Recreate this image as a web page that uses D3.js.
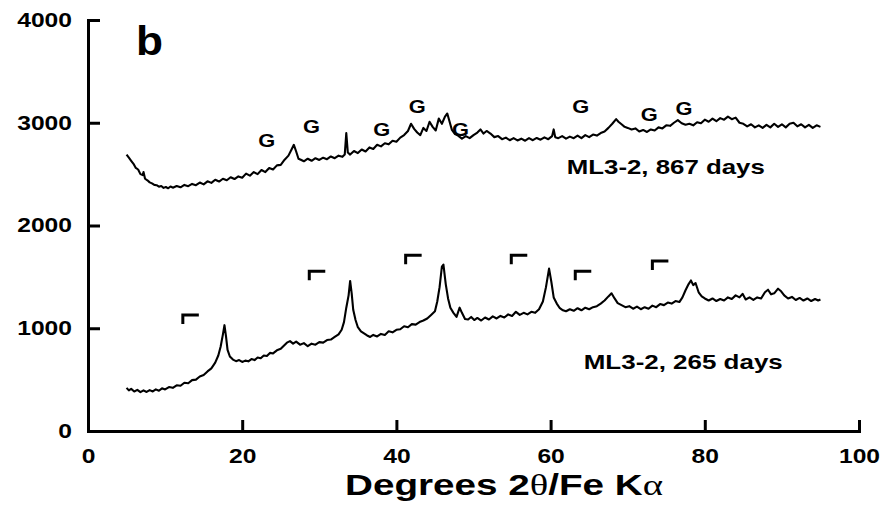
<!DOCTYPE html>
<html lang="en">
<head>
    <meta charset="UTF-8">
    <title>XRD ML3-2</title>
    <style>
        body {
            margin: 0;
            background-color: #fff;
        }
        svg {
            display: block;
        }
        .axis path, .axis line {
            stroke: #000;
            stroke-width: 3px;
        }
        .axis text {
            font-family: "Liberation Sans", Arial, sans-serif;
            font-weight: bold;
            font-size: 20px;
            fill: #000;
        }
        .scan {
            fill: none;
            stroke: #000;
            stroke-width: 2.1px;
            stroke-linejoin: round;
        }
        .label {
            font-family: "Liberation Sans", Arial, sans-serif;
            font-weight: bold;
            fill: #000;
        }
    </style>
</head>
<body>

<script src="https://d3js.org/d3.v7.min.js"></script>

<script>
    // x ticks, y ticks
    var xTicks = [0, 20, 40, 60, 80, 100];
    var yTicks = [0, 1000, 2000, 3000, 4000];

    // 867 days pattern [2theta, counts]
    var scan867 = [[5.0,2690],[5.3,2660],[5.6,2630],[5.9,2600],[6.2,2560],[6.5,2545],[6.8,2500],[7.1,2490],[7.2,2520],[7.4,2455],[7.7,2440],[8.0,2420],[8.3,2410],[8.6,2395],[8.9,2392],[9.2,2378],[9.5,2384],[9.8,2366],[10.1,2375],[10.4,2362],[10.7,2380],[11.0,2368],[11.5,2385],[12.0,2372],[12.5,2395],[13.0,2383],[13.5,2405],[14.0,2392],[14.5,2418],[15.0,2400],[15.5,2430],[16.0,2415],[16.5,2445],[17.0,2428],[17.5,2455],[18.0,2440],[18.5,2470],[19.0,2452],[19.5,2478],[20.0,2465],[20.5,2505],[21.0,2485],[21.5,2520],[22.0,2500],[22.5,2540],[23.0,2520],[23.5,2560],[24.0,2545],[24.5,2585],[25.0,2590],[25.5,2640],[26.0,2680],[26.4,2740],[26.7,2785],[27.0,2720],[27.3,2650],[27.6,2640],[28.0,2625],[28.5,2650],[29.0,2630],[29.5,2655],[30.0,2638],[30.5,2660],[31.0,2645],[31.5,2672],[32.0,2655],[32.5,2680],[33.0,2668],[33.3,2690],[33.5,2900],[33.7,2710],[34.0,2690],[34.5,2725],[35.0,2705],[35.5,2740],[36.0,2720],[36.5,2760],[37.0,2745],[37.5,2785],[38.0,2770],[38.5,2800],[39.0,2790],[39.5,2825],[40.0,2815],[40.5,2855],[41.0,2880],[41.5,2920],[41.9,2990],[42.3,2940],[42.7,2905],[43.1,2880],[43.5,2950],[43.9,2920],[44.3,3010],[44.7,2960],[45.1,2925],[45.5,3040],[45.9,2990],[46.3,3060],[46.6,3090],[46.9,3010],[47.2,2930],[47.6,2890],[48.0,2875],[48.5,2845],[49.0,2870],[49.5,2850],[50.0,2880],[50.5,2905],[50.9,2935],[51.3,2895],[51.7,2920],[52.2,2895],[52.7,2860],[53.2,2870],[53.7,2840],[54.2,2855],[54.7,2830],[55.2,2850],[55.7,2828],[56.2,2845],[56.7,2825],[57.2,2850],[57.7,2830],[58.2,2852],[58.7,2835],[59.2,2858],[59.7,2840],[60.2,2870],[60.4,2935],[60.6,2860],[61.0,2850],[61.5,2870],[62.0,2845],[62.5,2865],[63.0,2850],[63.5,2875],[64.0,2850],[64.5,2880],[65.0,2860],[65.5,2885],[66.0,2875],[66.5,2900],[67.0,2915],[67.5,2950],[68.0,2990],[68.5,3035],[68.8,3010],[69.2,2985],[69.6,2960],[70.0,2950],[70.5,2935],[71.0,2945],[71.5,2915],[72.0,2930],[72.5,2910],[73.0,2935],[73.5,2925],[74.0,2955],[74.5,2945],[75.0,2975],[75.5,2970],[76.0,3000],[76.5,3025],[77.0,2995],[77.5,2980],[78.0,2990],[78.5,2975],[79.0,3005],[79.5,2995],[80.0,3030],[80.5,3010],[81.0,3040],[81.5,3015],[82.0,3045],[82.5,3030],[83.0,3060],[83.5,3035],[84.0,3050],[84.5,3000],[85.0,2990],[85.5,2965],[86.0,2985],[86.5,2955],[87.0,2975],[87.5,2950],[88.0,2980],[88.5,2955],[89.0,2990],[89.5,2960],[90.0,2985],[90.5,2955],[91.0,2990],[91.5,3000],[92.0,2965],[92.5,2985],[93.0,2955],[93.5,2980],[94.0,2950],[94.5,2975],[95.0,2960]];

    // 265 days pattern [2theta, counts]
    var scan265 = [[5.0,420],[5.3,395],[5.6,410],[6.0,385],[6.4,400],[6.8,378],[7.2,395],[7.6,380],[8.0,398],[8.4,385],[8.8,405],[9.2,392],[9.6,415],[10.0,405],[10.5,428],[11.0,420],[11.5,445],[12.0,440],[12.5,470],[13.0,465],[13.5,495],[14.0,500],[14.5,530],[15.0,545],[15.5,580],[16.0,610],[16.5,665],[16.9,735],[17.2,820],[17.5,940],[17.7,1030],[17.9,920],[18.1,790],[18.4,725],[18.8,695],[19.2,680],[19.6,690],[20.0,672],[20.4,685],[20.8,678],[21.2,700],[21.6,690],[22.0,715],[22.4,708],[22.8,735],[23.2,730],[23.6,760],[24.0,755],[24.5,785],[25.0,800],[25.4,830],[25.8,860],[26.2,875],[26.6,850],[27.0,870],[27.5,840],[28.0,855],[28.5,825],[29.0,850],[29.5,840],[30.0,865],[30.5,860],[31.0,885],[31.5,890],[32.0,915],[32.5,940],[32.9,985],[33.2,1060],[33.5,1200],[33.8,1320],[34.0,1460],[34.2,1340],[34.4,1180],[34.7,1080],[35.0,1010],[35.4,970],[35.8,950],[36.2,930],[36.6,915],[37.0,935],[37.5,920],[38.0,945],[38.5,935],[39.0,970],[39.5,960],[40.0,985],[40.5,990],[41.0,1020],[41.5,1010],[42.0,1040],[42.5,1035],[43.0,1060],[43.5,1075],[44.0,1095],[44.5,1130],[45.0,1165],[45.3,1260],[45.6,1400],[45.9,1600],[46.1,1620],[46.4,1430],[46.7,1290],[47.0,1200],[47.4,1150],[47.8,1110],[48.2,1200],[48.5,1150],[48.9,1090],[49.3,1085],[49.7,1110],[50.1,1080],[50.5,1100],[51.0,1075],[51.5,1105],[52.0,1085],[52.5,1115],[53.0,1095],[53.5,1120],[54.0,1105],[54.5,1135],[55.0,1120],[55.5,1160],[56.0,1130],[56.5,1150],[57.0,1135],[57.5,1160],[58.0,1150],[58.5,1185],[59.0,1260],[59.4,1400],[59.8,1580],[60.1,1450],[60.4,1300],[60.8,1240],[61.2,1195],[61.6,1175],[62.0,1165],[62.5,1185],[63.0,1170],[63.5,1195],[64.0,1175],[64.5,1200],[65.0,1185],[65.5,1205],[66.0,1215],[66.5,1240],[67.0,1270],[67.5,1310],[67.9,1340],[68.3,1290],[68.7,1245],[69.2,1225],[69.7,1205],[70.2,1215],[70.7,1190],[71.2,1210],[71.7,1185],[72.2,1205],[72.7,1190],[73.2,1220],[73.7,1205],[74.2,1235],[74.7,1225],[75.2,1250],[75.7,1240],[76.2,1265],[76.7,1255],[77.1,1300],[77.5,1370],[77.9,1430],[78.2,1465],[78.5,1420],[78.8,1440],[79.2,1350],[79.6,1310],[80.0,1290],[80.5,1270],[81.0,1290],[81.5,1265],[82.0,1285],[82.5,1270],[83.0,1300],[83.5,1285],[84.0,1320],[84.5,1300],[84.9,1335],[85.3,1280],[85.8,1300],[86.3,1275],[86.8,1300],[87.3,1290],[87.8,1350],[88.2,1375],[88.6,1330],[89.0,1340],[89.5,1385],[89.9,1360],[90.3,1320],[90.8,1290],[91.3,1305],[91.8,1275],[92.3,1295],[92.8,1270],[93.3,1290],[93.8,1265],[94.3,1285],[94.7,1270],[95.0,1280]];

    // bracket markers (left x, top y) on the 265 days pattern
    var brackets = [[12.3,1130],[28.7,1555],[41.2,1710],[54.9,1710],[63.2,1555],[73.2,1655]];

    // "G" markers on the 867 days pattern
    var gMarks = [[23.2,2830],[29.0,2965],[38.1,2935],[42.7,3160],[48.3,2935],[63.9,3155],[72.8,3080],[77.3,3140]];

    // series labels: text, left x, baseline y
    var seriesLabels = [["ML3-2, 867 days", 62.1, 2500, 198], ["ML3-2, 265 days", 64.3, 600, 199]];

    var W = 884, H = 516;

    var svg = d3.select("body")
        .append("svg")
        .attr("width", W)
        .attr("height", H);

    var x = d3.scaleLinear().domain([0, 100]).range([88, 859]);
    var y = d3.scaleLinear().domain([0, 4000]).range([431, 20]);

    // axes, ticks pointing inward
    svg.append("g")
        .attr("class", "axis")
        .attr("transform", "translate(0,431)")
        .call(d3.axisBottom(x).tickValues(xTicks).tickFormat(d3.format("d"))
            .tickSizeInner(-11).tickSizeOuter(0).tickPadding(18));

    svg.append("g")
        .attr("class", "axis")
        .attr("transform", "translate(88,0)")
        .call(d3.axisLeft(y).tickValues(yTicks).tickFormat(d3.format("d"))
            .tickSizeInner(-12).tickSizeOuter(0).tickPadding(16));

    svg.selectAll(".axis text")
        .attr("textLength", function () { return this.textContent.length * 13.7; })
        .attr("lengthAdjust", "spacingAndGlyphs");

    svg.selectAll(".axis path").attr("stroke-linecap", "square");

    var line = d3.line()
        .x(function (d) { return x(d[0]); })
        .y(function (d) { return y(d[1]); });

    svg.append("path").datum(scan867).attr("class", "scan").attr("d", line);
    svg.append("path").datum(scan265).attr("class", "scan").attr("d", line);

    // brackets
    svg.append("g").selectAll("path")
        .data(brackets)
        .enter()
        .append("path")
        .attr("d", function (d) {
            var px = x(d[0]), py = y(d[1]);
            return "M" + px + "," + (py + 9) + "V" + py + "H" + (px + 16);
        })
        .attr("fill", "none")
        .attr("stroke", "#000")
        .attr("stroke-width", 3);

    // G markers
    svg.append("g").selectAll("text")
        .data(gMarks)
        .enter()
        .append("text")
        .attr("class", "label")
        .attr("x", function (d) { return x(d[0]); })
        .attr("y", function (d) { return y(d[1]) + 6.5; })
        .attr("text-anchor", "middle")
        .attr("font-size", 18)
        .attr("textLength", 17)
        .attr("lengthAdjust", "spacingAndGlyphs")
        .text("G");

    svg.append("g").selectAll("text")
        .data(seriesLabels)
        .enter()
        .append("text")
        .attr("class", "label")
        .attr("x", function (d) { return x(d[1]); })
        .attr("y", function (d) { return y(d[2]); })
        .attr("font-size", 21)
        .attr("textLength", function (d) { return d[3]; })
        .attr("lengthAdjust", "spacingAndGlyphs")
        .text(function (d) { return d[0]; });

    // panel letter
    svg.append("text")
        .attr("class", "label")
        .attr("x", 136)
        .attr("y", 55)
        .attr("font-size", 41)
        .attr("textLength", 27)
        .attr("lengthAdjust", "spacingAndGlyphs")
        .text("b");

    // x axis title
    var title = svg.append("text")
        .attr("class", "label")
        .attr("x", 345)
        .attr("y", 495)
        .attr("font-size", 30)
        .attr("textLength", 318)
        .attr("lengthAdjust", "spacingAndGlyphs");
    title.append("tspan").text("Degrees 2");
    title.append("tspan").attr("font-family", "Liberation Serif, serif").attr("font-weight", "normal").text("θ");
    title.append("tspan").text("/Fe K");
    title.append("tspan").attr("font-family", "Liberation Serif, serif").attr("font-weight", "normal").text("α");

</script>

</body>
</html>
